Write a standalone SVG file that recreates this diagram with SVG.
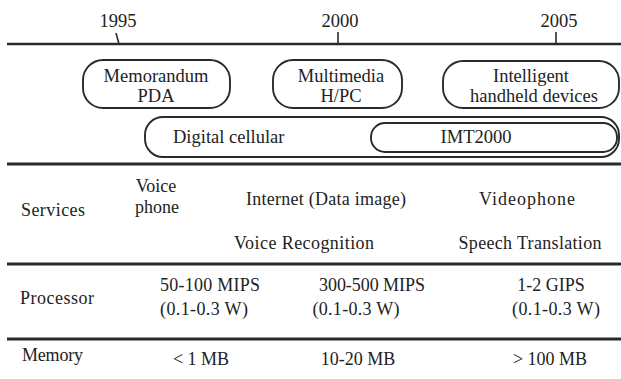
<svg xmlns="http://www.w3.org/2000/svg" width="621" height="379" viewBox="0 0 621 379">
<style>
  text { font-family: "Liberation Serif", "Times New Roman", serif; fill: #222; }
  .yr { font-size: 18.5px; text-anchor: middle; }
  .bx { font-size: 18.5px; text-anchor: middle; }
  .tb { font-size: 18px; }
  .c { text-anchor: middle; }
  .pill { fill: none; stroke: #2a2a2a; stroke-width: 1.9; }
  .rule { stroke: #2a2a2a; stroke-width: 3; }
  .tick { stroke: #2a2a2a; stroke-width: 1.6; }
</style>
<rect width="621" height="379" fill="#fff"/>

<g id="timeline">
  <line class="rule" x1="7" y1="44" x2="621" y2="44" style="stroke-width:2.4"/>
  <line class="tick" x1="116" y1="33" x2="119" y2="44"/>
  <line class="tick" x1="338" y1="32" x2="338" y2="44"/>
  <line class="tick" x1="556" y1="32" x2="556" y2="44"/>
  <text class="yr" x="118" y="27">1995</text>
  <text class="yr" x="340" y="27">2000</text>
  <text class="yr" x="559" y="27">2005</text>
</g>

<g id="node-pda">
  <rect class="pill" x="83" y="60" width="147" height="48" rx="20"/>
  <text class="bx" x="156" y="82">Memorandum</text>
  <text class="bx" x="156" y="102">PDA</text>
</g>
<g id="node-hpc">
  <rect class="pill" x="273" y="60" width="129" height="48" rx="20"/>
  <text class="bx" x="341" y="82">Multimedia</text>
  <text class="bx" x="341" y="102">H/PC</text>
</g>
<g id="node-intelligent">
  <rect class="pill" x="443" y="61" width="176" height="47" rx="20"/>
  <text class="bx" x="531" y="82">Intelligent</text>
  <text class="bx" x="534" y="102">handheld devices</text>
</g>
<g id="node-digital">
  <rect class="pill" x="145" y="117" width="474" height="40" rx="18"/>
  <text x="173" y="143" style="font-size:18.5px">Digital cellular</text>
</g>
<g id="node-imt">
  <rect class="pill" x="371" y="123" width="246" height="29" rx="14"/>
  <text x="476" y="143" class="c" style="font-size:18.5px">IMT2000</text>
</g>

<g id="connectors"></g>

<g id="table">
  <line class="rule" x1="7" y1="164" x2="621" y2="164"/>
  <line class="rule" x1="7" y1="264" x2="621" y2="264"/>
  <line class="rule" x1="7" y1="339" x2="621" y2="339"/>

  <text class="tb" x="21" y="216" textLength="64">Services</text>
  <text class="tb c" x="156" y="192">Voice</text>
  <text class="tb c" x="157" y="213">phone</text>
  <text class="tb c" x="326" y="205" textLength="160">Internet (Data image)</text>
  <text class="tb c" x="527" y="205" textLength="96">Videophone</text>
  <text class="tb c" x="304" y="249" textLength="140">Voice Recognition</text>
  <text class="tb c" x="530" y="249" textLength="143">Speech Translation</text>

  <text class="tb" x="20" y="304" textLength="74">Processor</text>
  <text class="tb c" x="210" y="291" textLength="100">50-100 MIPS</text>
  <text class="tb c" x="204" y="315" textLength="88">(0.1-0.3 W)</text>
  <text class="tb c" x="372" y="291" textLength="106">300-500 MIPS</text>
  <text class="tb c" x="356" y="315" textLength="87">(0.1-0.3 W)</text>
  <text class="tb c" x="551" y="291">1-2 GIPS</text>
  <text class="tb c" x="556" y="315" textLength="88">(0.1-0.3 W)</text>

  <text class="tb" x="22" y="361" textLength="61">Memory</text>
  <text class="tb c" x="201" y="365">&lt; 1 MB</text>
  <text class="tb c" x="358" y="365">10-20 MB</text>
  <text class="tb c" x="550" y="365">&gt; 100 MB</text>
</g>
</svg>
